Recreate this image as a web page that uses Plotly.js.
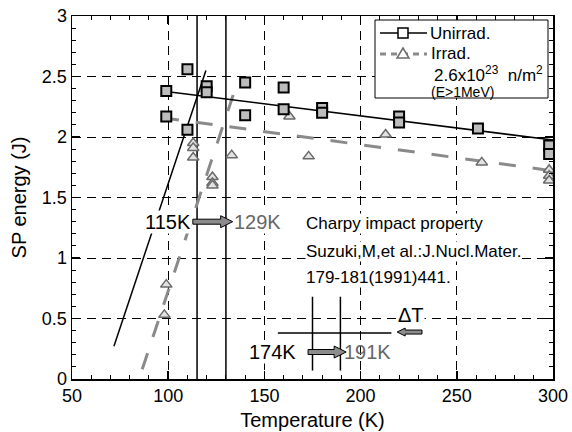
<!DOCTYPE html>
<html>
<head>
<meta charset="utf-8">
<script src="https://cdn.plot.ly/plotly-3.0.1.min.js"></script>
<style>html,body{margin:0;padding:0;background:#fff;}#chart{width:572px;height:432px;}</style>
</head>
<body>
<div id="chart"></div>
<script>
// ---- data ----
var unirrT = [99, 110, 99, 110, 120, 120, 140, 140, 160, 160, 180, 180, 220, 220, 261, 298, 298];
var unirrE = [2.38, 2.56, 2.17, 2.06, 2.42, 2.37, 2.45, 2.18, 2.41, 2.23, 2.24, 2.20, 2.17, 2.12, 2.07, 1.93, 1.86];

var irrT = [113, 113, 113, 133, 123, 123, 123, 163, 173, 213, 263, 298, 298, 298, 99, 98];
var irrE = [1.95, 1.91, 1.83, 1.85, 1.67, 1.62, 1.60, 2.17, 1.84, 2.02, 1.79, 1.73, 1.68, 1.64, 0.78, 0.53];

// fitted curves (end points)
var unirrUpperT = [102, 300];
var unirrUpperE = [2.37, 1.975];
var unirrTransT = [71.8, 119.6];
var unirrTransE = [0.27, 2.55];
var irrUpperT = [96.8, 300];
var irrUpperE = [2.16, 1.72];
var irrTransT = [86.5, 135.5];
var irrTransE = [0.08, 2.43];

// transition temperature markers
var dbttLines = [115, 130];
var dbttLabels = ['115K', '129K'];
var dtLines = [175, 189.5];
var dtLabels = ['174K', '191K'];
var dtBarT = [157, 216];
var dtBarE = 0.38;

var seriesNames = ['Unirrad.', 'Irrad.'];
var fluenceText = '2.6x10<sup>23</sup>  n/m<sup>2</sup>';
var energyText = '(E&gt;1MeV)';
var refLines = ['Charpy impact property', 'Suzuki,M,et al.:J.Nucl.Mater.', '179-181(1991)441.'];

// ---- helpers ----
var KPX = 250 / 481, JPX = 3 / 363;
function PX(px) { return (px - 72) / 481; }
function PY(py) { return (379 - py) / 363; }
function arrowPath(x0, x1, y, bh, hl, hh) {
  var dir = x1 > x0 ? 1 : -1;
  var xh = x1 - dir * hl * KPX;
  var b = bh * JPX, h = hh * JPX;
  return 'M' + x0 + ',' + (y + b) + ' L' + xh + ',' + (y + b) + ' L' + xh + ',' + (y + h) +
    ' L' + x1 + ',' + y + ' L' + xh + ',' + (y - h) + ' L' + xh + ',' + (y - b) +
    ' L' + x0 + ',' + (y - b) + ' Z';
}

var FONT = 'Liberation Sans, Arial, Helvetica, sans-serif';
var GRAYLINE = '#8a8a8a';

var traces = [];
dbttLines.forEach(function (t) {
  traces.push({x: [t, t], y: [0, 3], mode: 'lines', line: {color: 'black', width: 1.5}, showlegend: false, hoverinfo: 'skip'});
});
traces.push({x: dtBarT, y: [dtBarE, dtBarE], mode: 'lines', line: {color: 'black', width: 1.5}, showlegend: false});
dtLines.forEach(function (t) {
  traces.push({x: [t, t], y: [0.07, 0.68], mode: 'lines', line: {color: 'black', width: 1.5}, showlegend: false});
});
traces.push({x: irrUpperT, y: irrUpperE, mode: 'lines', line: {color: GRAYLINE, width: 3, dash: '17px,17px'}, showlegend: false});
traces.push({x: irrTransT, y: irrTransE, mode: 'lines', line: {color: GRAYLINE, width: 3, dash: '17px,17px'}, showlegend: false});
traces.push({x: unirrUpperT, y: unirrUpperE, mode: 'lines', line: {color: 'black', width: 1.5}, showlegend: false});
traces.push({x: unirrTransT, y: unirrTransE, mode: 'lines', line: {color: 'black', width: 1.5}, showlegend: false});
traces.push({x: irrT, y: irrE, mode: 'markers', name: seriesNames[1], showlegend: false,
  marker: {symbol: 'triangle-up', size: 10, color: '#e2e2e2', line: {color: '#6a6a6a', width: 1.5}}});
traces.push({x: unirrT, y: unirrE, mode: 'markers', name: seriesNames[0], showlegend: false,
  marker: {symbol: 'square', size: 10, color: '#bdbdbd', line: {color: 'black', width: 2}}});

// legend (drawn by hand inside a box)
var legY1 = 33, legY2 = 54, symX = 403;
var shapes = [
  {type: 'rect', xref: 'paper', yref: 'paper', x0: PX(375), x1: PX(548), y0: PY(98), y1: PY(20),
   fillcolor: 'white', line: {color: 'black', width: 1}, layer: 'above'},
  {type: 'line', xref: 'paper', yref: 'paper', x0: PX(380), x1: PX(427), y0: PY(legY1), y1: PY(legY1),
   line: {color: 'black', width: 1.5}, layer: 'above'},
  {type: 'rect', xref: 'paper', yref: 'paper', x0: PX(symX - 5), x1: PX(symX + 5), y0: PY(legY1 + 5), y1: PY(legY1 - 5),
   fillcolor: 'white', line: {color: 'black', width: 1.5}, layer: 'above'},
  {type: 'line', xref: 'paper', yref: 'paper', x0: PX(380), x1: PX(427), y0: PY(legY2), y1: PY(legY2),
   line: {color: GRAYLINE, width: 3, dash: '6px,5px'}, layer: 'above'},
  {type: 'path', xref: 'paper', yref: 'paper',
   path: 'M' + PX(symX) + ',' + PY(legY2 - 6) + ' L' + PX(symX + 6) + ',' + PY(legY2 + 4) + ' L' + PX(symX - 6) + ',' + PY(legY2 + 4) + ' Z',
   fillcolor: 'white', line: {color: '#6a6a6a', width: 1.5}, layer: 'above'},
  {type: 'path', xref: 'x', yref: 'y', path: arrowPath(112.8, 133.5, 1.30, 2.5, 12, 6), fillcolor: '#8c8c8c', line: {color: 'black', width: 1}, layer: 'above'},
  {type: 'path', xref: 'x', yref: 'y', path: arrowPath(172.7, 192.5, 0.223, 2.5, 12, 6), fillcolor: '#8c8c8c', line: {color: 'black', width: 1}, layer: 'above'},
  {type: 'path', xref: 'x', yref: 'y', path: arrowPath(231.9, 219, 0.388, 2, 8, 4), fillcolor: '#8c8c8c', line: {color: 'black', width: 1}, layer: 'above'}
];

var annotations = [
  {x: PX(428), y: PY(legY1), xref: 'paper', yref: 'paper', text: seriesNames[0], showarrow: false, xanchor: 'left', yanchor: 'middle',
   font: {size: 17, color: 'black', family: FONT}},
  {x: PX(429), y: PY(legY2), xref: 'paper', yref: 'paper', text: seriesNames[1], showarrow: false, xanchor: 'left', yanchor: 'middle',
   font: {size: 17, color: 'black', family: FONT}},
  {x: PX(545), y: PY(74), xref: 'paper', yref: 'paper', text: fluenceText, showarrow: false,
   xanchor: 'right', yanchor: 'middle', font: {size: 17, color: 'black', family: FONT}},
  {x: PX(462), y: PY(92), xref: 'paper', yref: 'paper', text: energyText, showarrow: false,
   xanchor: 'center', yanchor: 'middle', font: {size: 14, color: 'black', family: FONT}},
  {x: 112.6, y: 1.30, xref: 'x', yref: 'y', text: dbttLabels[0], showarrow: false, xanchor: 'right', yanchor: 'middle',
   font: {size: 20, color: 'black', family: FONT}, bgcolor: 'white', borderpad: 0},
  {x: 133.6, y: 1.30, xref: 'x', yref: 'y', text: dbttLabels[1], showarrow: false, xanchor: 'left', yanchor: 'middle',
   font: {size: 20, color: '#666', family: FONT}, bgcolor: 'white', borderpad: 0},
  {x: 167, y: 0.22, xref: 'x', yref: 'y', text: dtLabels[0], showarrow: false, xanchor: 'right', yanchor: 'middle',
   font: {size: 20, color: 'black', family: FONT}, bgcolor: 'white', borderpad: 0},
  {x: 190.6, y: 0.22, xref: 'x', yref: 'y', text: dtLabels[1], showarrow: false, xanchor: 'left', yanchor: 'middle',
   font: {size: 20, color: '#666', family: FONT}, borderpad: 0},
  {x: 219, y: 0.53, xref: 'x', yref: 'y', text: '\u0394T', showarrow: false, xanchor: 'left', yanchor: 'middle',
   font: {size: 20, color: 'black', family: FONT}, bgcolor: 'white', borderpad: 0}
];
var refY = [1.289, 1.05, 0.843];
refLines.forEach(function (t, i) {
  annotations.push({x: 171.1, y: refY[i], xref: 'x', yref: 'y', text: t, showarrow: false, xanchor: 'left', yanchor: 'middle',
    font: {size: 17, color: 'black', family: FONT}, bgcolor: 'white', borderpad: 0});
});

var axisCommon = {
  ticks: 'inside', ticklen: 8, tickwidth: 1.5, tickcolor: 'black',
  showline: true, linewidth: 1.5, linecolor: 'black', mirror: 'ticks',
  showgrid: true, gridcolor: 'black', gridwidth: 1, griddash: '9px,6px',
  zeroline: false, tickfont: {size: 18, color: 'black', family: FONT}
};

var layout = {
  width: 572, height: 432,
  margin: {l: 72, r: 19, t: 16, b: 53},
  paper_bgcolor: 'white', plot_bgcolor: 'white',
  font: {family: FONT, color: 'black'},
  xaxis: Object.assign({}, axisCommon, {
    range: [50, 300], tick0: 50, dtick: 50,
    minor: {dtick: 10, ticks: 'inside', ticklen: 4, tickcolor: 'black', tickwidth: 1, showgrid: false},
    title: {text: 'Temperature (K)', font: {size: 20, color: 'black', family: FONT}, standoff: 8}
  }),
  yaxis: Object.assign({}, axisCommon, {
    range: [0, 3], tick0: 0, dtick: 0.5,
    minor: {dtick: 0.1, ticks: 'inside', ticklen: 4, tickcolor: 'black', tickwidth: 1, showgrid: false},
    title: {text: 'SP energy (J)', font: {size: 20, color: 'black', family: FONT}, standoff: 10}
  }),
  shapes: shapes,
  annotations: annotations,
  showlegend: false
};

Plotly.newPlot('chart', traces, layout, {displayModeBar: false, staticPlot: true});
</script>
</body>
</html>
